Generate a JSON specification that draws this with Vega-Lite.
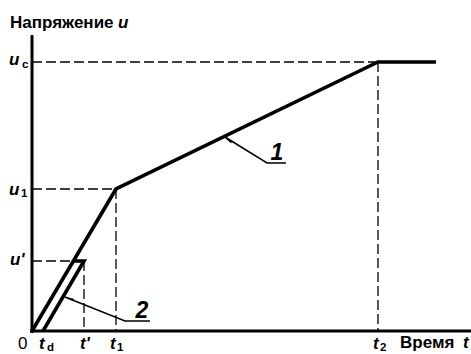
{
  "$schema": "https://vega.github.io/schema/vega-lite/v6.json",
  "width": 439,
  "height": 295,
  "autosize": {"type": "none"},
  "padding": {"left": 32, "top": 36, "right": 0, "bottom": 23},
  "background": "white",
  "config": {"view": {"stroke": null}},
  "datasets": {
    "curves": [
      {"series": "1", "order": 1, "t": 0, "u": 0},
      {"series": "1", "order": 2, "t": 84, "u": 142},
      {"series": "1", "order": 3, "t": 346, "u": 269},
      {"series": "1", "order": 4, "t": 404, "u": 269},
      {"series": "2", "order": 1, "t": 11, "u": 0},
      {"series": "2", "order": 2, "t": 52, "u": 70},
      {"series": "2", "order": 3, "t": 41.4, "u": 70}
    ],
    "dashed": [
      {"t": 0, "u": 269, "t_end": 346, "u_end": 269},
      {"t": 346, "u": 269, "t_end": 346, "u_end": 0},
      {"t": 0, "u": 142, "t_end": 84, "u_end": 142},
      {"t": 84, "u": 142, "t_end": 84, "u_end": 0},
      {"t": 0, "u": 70, "t_end": 41, "u_end": 70},
      {"t": 52, "u": 70, "t_end": 52, "u_end": 0}
    ],
    "axes": [
      {"t": 0, "u": -2, "t_end": 0, "u_end": 296},
      {"t": -2, "u": 0, "t_end": 439, "u_end": 0}
    ],
    "leaders": [
      {"id": "1", "order": 1, "t": 193, "u": 194},
      {"id": "1", "order": 2, "t": 235, "u": 168},
      {"id": "1", "order": 3, "t": 254, "u": 168},
      {"id": "2", "order": 1, "t": 33, "u": 34},
      {"id": "2", "order": 2, "t": 93, "u": 10},
      {"id": "2", "order": 3, "t": 118, "u": 10}
    ],
    "arrow1": [{"t": 196.4, "u": 191}],
    "arrow2": [{"t": 37.7, "u": 32.5}],
    "words": [
      {"text": "Напряжение", "t": -22, "u": 303},
      {"text": "Время", "t": 368, "u": -17}
    ],
    "letters": [
      {"text": "u", "t": 86, "u": 303},
      {"text": "t", "t": 431, "u": -17},
      {"text": "u", "t": -23, "u": 266},
      {"text": "u", "t": -23, "u": 136},
      {"text": "u'", "t": -22, "u": 66},
      {"text": "t", "t": 7, "u": -18},
      {"text": "t'", "t": 48, "u": -18},
      {"text": "t", "t": 78, "u": -18},
      {"text": "t", "t": 341, "u": -18}
    ],
    "subs": [
      {"text": "c", "t": -10, "u": 263},
      {"text": "1", "t": -11, "u": 134},
      {"text": "d", "t": 15, "u": -19.5},
      {"text": "1", "t": 85, "u": -19.5},
      {"text": "2", "t": 348, "u": -19.5}
    ],
    "zero": [{"text": "0", "t": -14, "u": -18}],
    "callouts": [
      {"text": "1", "t": 245, "u": 171},
      {"text": "2", "t": 110, "u": 13}
    ]
  },
  "layer": [
    {
      "data": {"name": "axes"},
      "mark": {"type": "rule", "strokeWidth": 3, "color": "black"},
      "encoding": {
        "x": {"field": "t", "type": "quantitative", "scale": {"domain": [0, 439], "nice": false, "zero": false}, "axis": null},
        "y": {"field": "u", "type": "quantitative", "scale": {"domain": [0, 295], "nice": false, "zero": false}, "axis": null},
        "x2": {"field": "t_end"},
        "y2": {"field": "u_end"}
      }
    },
    {
      "data": {"name": "dashed"},
      "mark": {"type": "rule", "strokeWidth": 1.3, "strokeDash": [10, 4], "color": "black"},
      "encoding": {
        "x": {"field": "t", "type": "quantitative"},
        "y": {"field": "u", "type": "quantitative"},
        "x2": {"field": "t_end"},
        "y2": {"field": "u_end"}
      }
    },
    {
      "data": {"name": "curves"},
      "mark": {"type": "line", "strokeWidth": 3.6, "color": "black", "strokeJoin": "miter", "strokeCap": "butt"},
      "encoding": {
        "x": {"field": "t", "type": "quantitative"},
        "y": {"field": "u", "type": "quantitative"},
        "detail": {"field": "series"},
        "order": {"field": "order"}
      }
    },
    {
      "data": {"name": "leaders"},
      "mark": {"type": "line", "strokeWidth": 1.5, "color": "black"},
      "encoding": {
        "x": {"field": "t", "type": "quantitative"},
        "y": {"field": "u", "type": "quantitative"},
        "detail": {"field": "id"},
        "order": {"field": "order"}
      }
    },
    {
      "data": {"name": "arrow1"},
      "mark": {"type": "point", "shape": "M0,-1L0.35,1L-0.35,1Z", "filled": true, "size": 64, "angle": 300.7, "color": "black", "opacity": 1},
      "encoding": {
        "x": {"field": "t", "type": "quantitative"},
        "y": {"field": "u", "type": "quantitative"}
      }
    },
    {
      "data": {"name": "arrow2"},
      "mark": {"type": "point", "shape": "M0,-1L0.35,1L-0.35,1Z", "filled": true, "size": 64, "angle": 292.2, "color": "black", "opacity": 1},
      "encoding": {
        "x": {"field": "t", "type": "quantitative"},
        "y": {"field": "u", "type": "quantitative"}
      }
    },
    {
      "data": {"name": "words"},
      "mark": {"type": "text", "font": "Liberation Sans", "fontSize": 17, "fontWeight": "bold", "align": "left", "baseline": "alphabetic", "color": "black"},
      "encoding": {
        "x": {"field": "t", "type": "quantitative"},
        "y": {"field": "u", "type": "quantitative"},
        "text": {"field": "text"}
      }
    },
    {
      "data": {"name": "letters"},
      "mark": {"type": "text", "font": "Liberation Sans", "fontSize": 17, "fontWeight": "bold", "fontStyle": "italic", "align": "left", "baseline": "alphabetic", "color": "black"},
      "encoding": {
        "x": {"field": "t", "type": "quantitative"},
        "y": {"field": "u", "type": "quantitative"},
        "text": {"field": "text"}
      }
    },
    {
      "data": {"name": "subs"},
      "mark": {"type": "text", "font": "Liberation Sans", "fontSize": 11.5, "fontWeight": "bold", "align": "left", "baseline": "alphabetic", "color": "black"},
      "encoding": {
        "x": {"field": "t", "type": "quantitative"},
        "y": {"field": "u", "type": "quantitative"},
        "text": {"field": "text"}
      }
    },
    {
      "data": {"name": "zero"},
      "mark": {"type": "text", "font": "Liberation Sans", "fontSize": 17, "align": "left", "baseline": "alphabetic", "color": "black"},
      "encoding": {
        "x": {"field": "t", "type": "quantitative"},
        "y": {"field": "u", "type": "quantitative"},
        "text": {"field": "text"}
      }
    },
    {
      "data": {"name": "callouts"},
      "mark": {"type": "text", "font": "Liberation Sans", "fontSize": 23, "fontWeight": "bold", "fontStyle": "italic", "align": "center", "baseline": "alphabetic", "color": "black"},
      "encoding": {
        "x": {"field": "t", "type": "quantitative"},
        "y": {"field": "u", "type": "quantitative"},
        "text": {"field": "text"}
      }
    }
  ]
}
